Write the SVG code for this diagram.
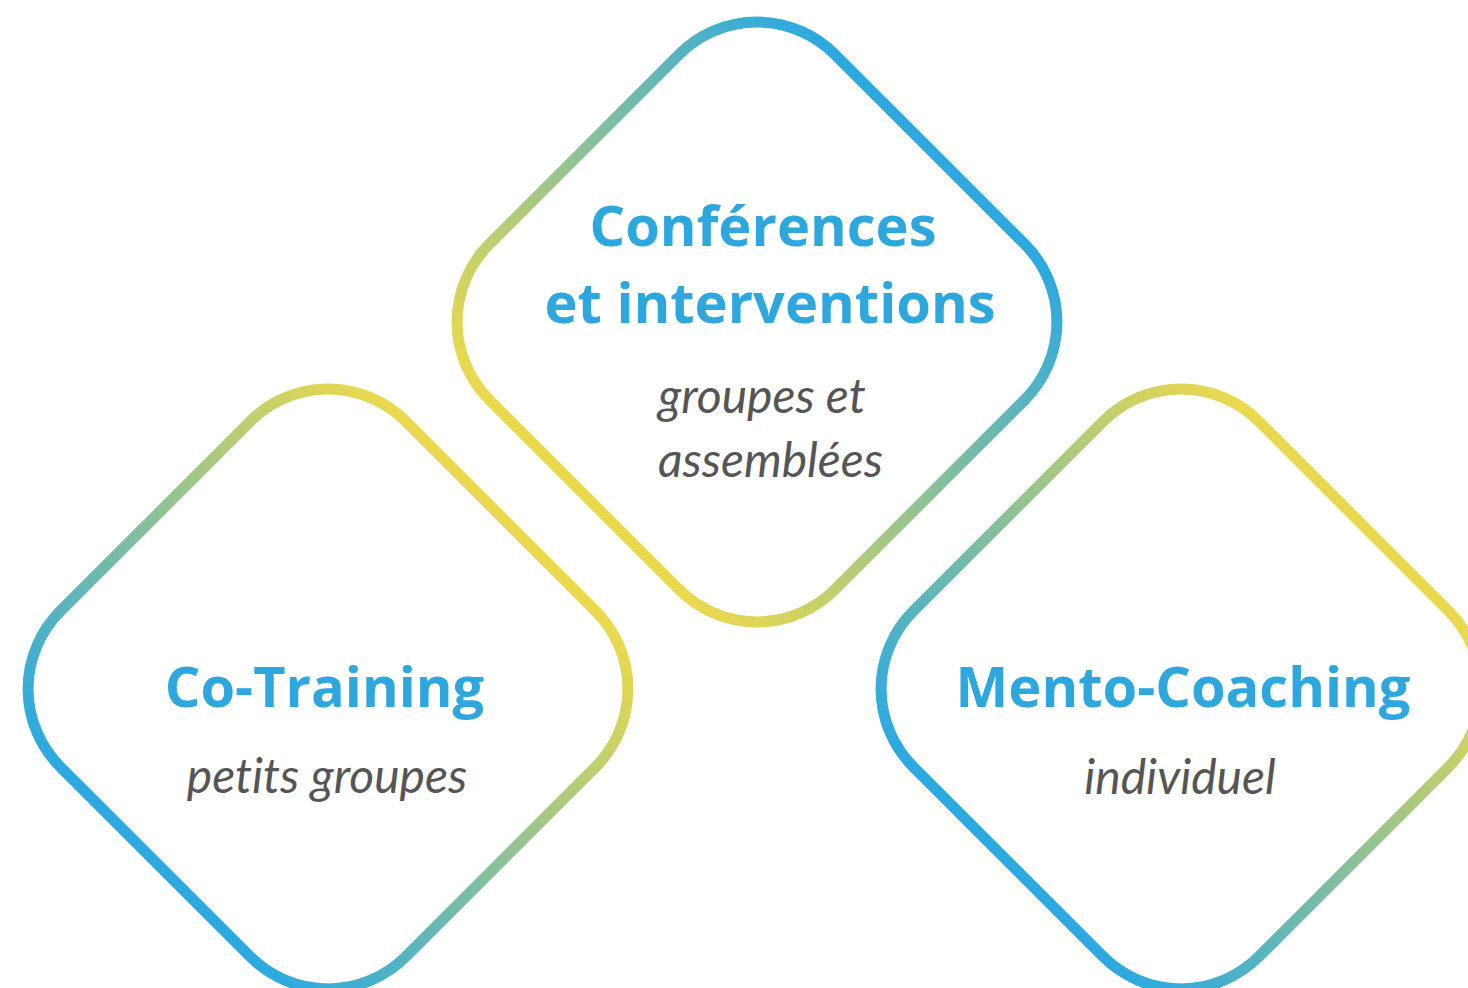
<svg xmlns="http://www.w3.org/2000/svg" width="1468" height="988" viewBox="0 0 1468 988">
<defs>
<linearGradient id="gBY" x1="0" y1="0" x2="0" y2="1">
<stop offset="0" stop-color="#2DA9E0"/>
<stop offset="1" stop-color="#EAD94E"/>
</linearGradient>
<linearGradient id="gYB" x1="0" y1="0" x2="0" y2="1">
<stop offset="0" stop-color="#EAD94E"/>
<stop offset="1" stop-color="#2DA9E0"/>
</linearGradient>
</defs>
<style>
.d{fill:#fff;stroke-width:11}
.t{font-family:"Open Sans",sans-serif;font-weight:700;font-size:56px;fill:#2EA7DF;text-anchor:middle}
.s{font-family:Lato,sans-serif;font-style:italic;font-size:48px;fill:#555;font-variant-ligatures:none}
</style>
<rect width="1468" height="988" fill="#fff"/>
<g id="connectors"/>
<g id="node-conferences">
<rect class="d" x="-244.3" y="-244.3" width="488.6" height="488.6" rx="110" stroke="url(#gBY)" transform="translate(757 322) rotate(45)"/>
<text class="t" x="763" y="246">Conférences</text>
<text class="t" x="770" y="323">et interventions</text>
<text class="s" x="658" y="413">groupes et</text>
<text class="s" x="658" y="477">assemblées</text>
</g>
<g id="node-cotraining">
<rect class="d" x="-244.3" y="-244.3" width="488.6" height="488.6" rx="110" stroke="url(#gYB)" transform="translate(328 689) rotate(45)"/>
<text class="t" x="324.5" y="707">Co-Training</text>
<text class="s" x="327" y="793" text-anchor="middle">petits groupes</text>
</g>
<g id="node-mentocoaching">
<rect class="d" x="-244.3" y="-244.3" width="488.6" height="488.6" rx="110" stroke="url(#gYB)" transform="translate(1181 689) rotate(45)"/>
<text class="t" x="1183" y="707">Mento-Coaching</text>
<text class="s" x="1180" y="794" text-anchor="middle">individuel</text>
</g>
</svg>
